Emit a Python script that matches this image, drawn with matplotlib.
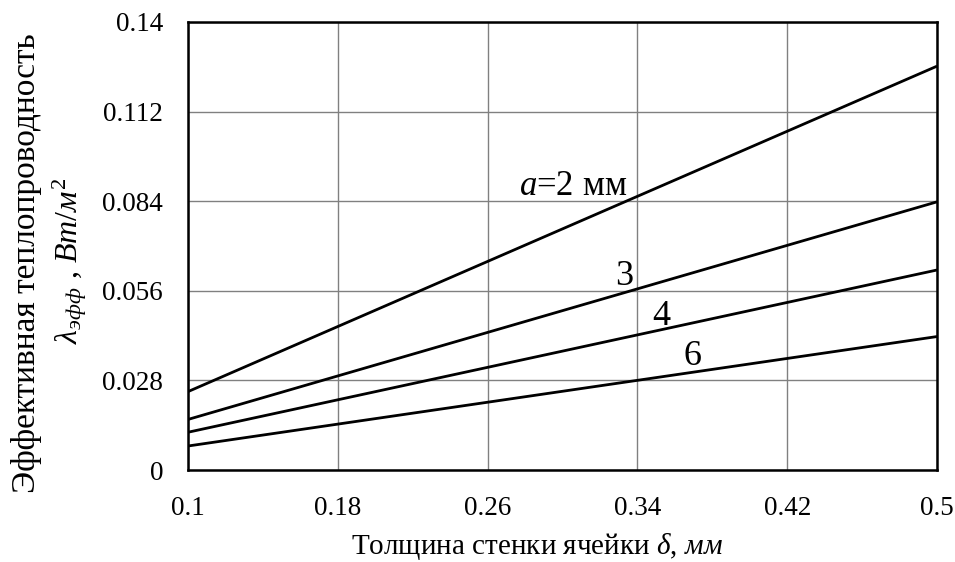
import matplotlib
matplotlib.use("Agg")
import matplotlib.pyplot as plt
import numpy as np

plt.rcParams['font.family'] = ['Liberation Serif', 'DejaVu Serif']
plt.rcParams['mathtext.fontset'] = 'custom'
plt.rcParams['mathtext.rm'] = 'Liberation Serif'
plt.rcParams['mathtext.it'] = 'Liberation Serif:italic'

delta = [0.1, 0.5]
a2 = [0.0245, 0.1262]
a3 = [0.0158, 0.0838]
a4 = [0.0118, 0.0625]
a6 = [0.0075, 0.0417]

xticks = [0.1, 0.18, 0.26, 0.34, 0.42, 0.5]
xticklabels = ['0.1', '0.18', '0.26', '0.34', '0.42', '0.5']
yticks = [0, 0.028, 0.056, 0.084, 0.112, 0.14]
yticklabels = ['0', '0.028', '0.056', '0.084', '0.112', '0.14']

fig = plt.figure(figsize=(9.55, 5.62), dpi=100)
ax = fig.add_axes([0.1969, 0.1637, 0.7843, 0.7972])

for s in (a2, a3, a4, a6):
    ax.plot(delta, s, color='black', lw=2.0, solid_capstyle='butt')

ax.set_xlim(0.1, 0.5)
ax.set_ylim(0, 0.14)
ax.set_xticks(xticks)
ax.set_xticklabels(xticklabels)
ax.set_yticks(yticks)
ax.set_yticklabels(yticklabels)
ax.tick_params(length=0, labelsize=19.5)
ax.tick_params(axis='x', pad=19)
ax.tick_params(axis='y', pad=18)
ax.grid(True, color='#808080', lw=1.0)
for sp in ax.spines.values():
    sp.set_linewidth(1.8)
    sp.set_color('black')

ax.text(0.3345, 0.0859, r'$a$=2 мм', fontsize=25, ha='right', va='baseline')
ax.text(0.3377, 0.0578, '3', fontsize=26, ha='right', va='baseline')
ax.text(0.3478, 0.0453, '4', fontsize=26, ha='left', va='baseline')
ax.text(0.3644, 0.0328, '6', fontsize=26, ha='left', va='baseline')

fig.text(0.5625, 0.028, r'Толщина стенки ячейки $\delta$, $мм$', fontsize=21,
         ha='center', va='center')
fig.text(0.028, 0.532, 'Эффективная теплопроводность', fontsize=24,
         rotation=90, ha='center', va='center')
fig.text(0.073, 0.535, r'$\lambda_{эфф}$ , $Вт/м^2$', fontsize=23,
         rotation=90, ha='center', va='center')

fig.savefig('out.png', dpi=100)
